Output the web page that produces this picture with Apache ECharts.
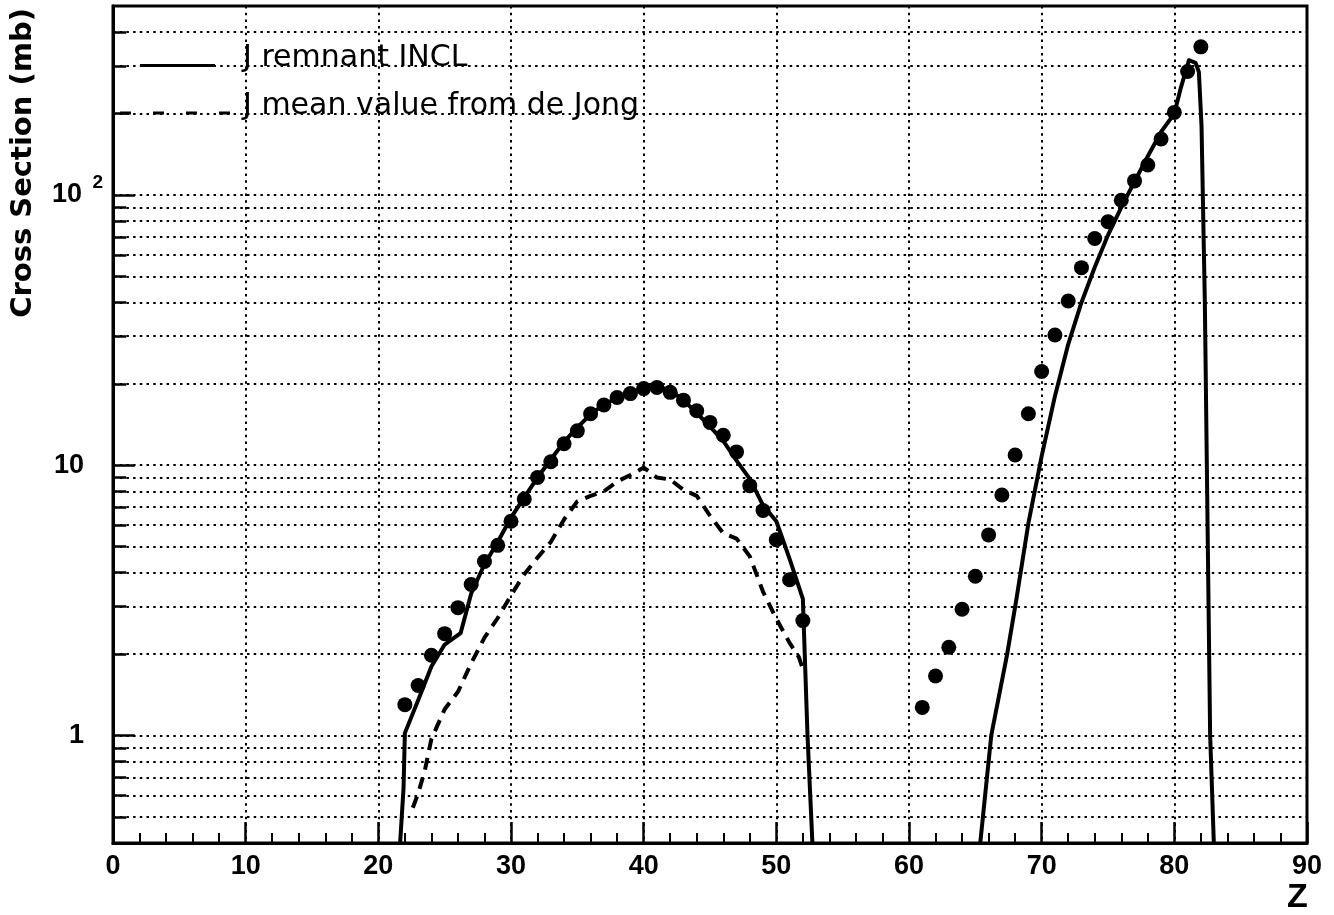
<!DOCTYPE html>
<html>
<head>
<meta charset="utf-8">
<script src="https://cdn.jsdelivr.net/npm/echarts@6/dist/echarts.min.js"></script>
<style>
  html, body { margin: 0; padding: 0; background: #fff; }
  #chart { width: 1334px; height: 915px; }
</style>
</head>
<body>
<div id="chart"></div>
<script>
// Measured cross sections (filled circles), charge Z vs. mb
const measZ = [22, 23, 24, 25, 26, 27, 28, 29, 30, 31, 32, 33, 34, 35, 36, 37, 38, 39, 40, 41,
               42, 43, 44, 45, 46, 47, 48, 49, 50, 51, 52,
               61, 62, 63, 64, 65, 66, 67, 68, 69, 70, 71, 72, 73, 74, 75, 76, 77, 78, 79, 80, 81, 82];
const measCS = [1.30, 1.53, 1.98, 2.38, 2.97, 3.62, 4.40, 5.05, 6.2, 7.5, 9.0, 10.3, 12.0, 13.4, 15.5, 16.7, 17.8, 18.4, 19.2, 19.4,
                18.6, 17.4, 15.9, 14.4, 12.9, 11.2, 8.4, 6.8, 5.3, 3.77, 2.66,
                1.27, 1.66, 2.12, 2.93, 3.88, 5.52, 7.76, 10.9, 15.5, 22.2, 30.3, 40.5, 53.8, 69, 79.6, 95.6, 112.7, 129, 161, 202, 286, 353];

// INCL remnant calculation (solid curve); null splits the two branches
const inclZ = [21.6, 21.9, 22.0, 23, 24, 25, 26.2, 27, 28, 29, 30, 31, 32, 33, 34, 35, 36, 37, 38, 39, 40, 41,
               42, 43, 44, 45, 46, 47, 48, 49, 50, 51, 52, 52.35, 52.75,
               58,
               65.3, 66.2, 67.4, 68.1, 69, 70, 71, 72, 73, 74, 75, 76, 77, 78, 79, 80, 80.5, 81.1, 81.6, 81.85, 82.05, 82.3, 82.7, 83.0];
const inclCS = [0.37, 0.64, 1.02, 1.35, 1.8, 2.17, 2.39, 3.35, 4.3, 5.2, 6.4, 7.6, 9.0, 10.5, 12.2, 13.8, 15.4, 16.8, 17.7, 18.5, 19.3, 19.6,
                18.9, 17.4, 15.6, 13.9, 12.3, 10.4, 8.9, 7.1, 6.2, 4.5, 3.2, 1.0, 0.37,
                null,
                0.37, 1.0, 2.0, 3.2, 6.1, 10.8, 18, 28, 40, 54, 71, 90, 112, 139, 171, 200, 250, 315, 308, 285, 180, 40, 1.0, 0.37];

// Mean J value from de Jong (dashed curve)
const jongZ = [22.6, 23, 23.5, 24, 25, 26, 27, 28, 29, 30, 31, 32, 33, 34, 35, 36, 37, 38, 39, 40,
               41, 42, 43, 44, 45, 46, 47, 48, 49, 50, 51, 51.7, 52.1];
const jongCS = [0.54, 0.61, 0.74, 0.97, 1.25, 1.45, 1.85, 2.3, 2.72, 3.3, 3.95, 4.55, 5.2, 6.3, 7.35, 7.7, 8.0, 8.7, 9.2, 9.8,
                9.0, 8.85, 8.1, 7.7, 6.5, 5.6, 5.35, 4.6, 3.4, 2.7, 2.2, 1.95, 1.7];

// Horizontal grid levels of the log axis and the labelled decades
const gridLevels = [0.5, 0.6, 0.7, 0.8, 0.9, 1, 2, 3, 4, 5, 6, 7, 8, 9, 10,
                    20, 30, 40, 50, 60, 70, 80, 90, 100, 200, 300, 400];
const decades = [1, 10, 100];

const legendNames = ['J remnant INCL', 'J mean value from de Jong'];
const yTitle = 'Cross Section (mb)';
const xTitle = 'Z';

const pairs = (xs, ys) => xs.map((x, i) => [x, ys[i]]);
const DOTS = [2.5, 4.2];
const BOLD = '"Liberation Sans", Arial, Helvetica, sans-serif';

const chart = echarts.init(document.getElementById('chart'), null, { renderer: 'canvas' });

chart.setOption({
  animation: false,
  backgroundColor: '#fff',
  grid: {
    left: 113, right: 27, top: 6, bottom: 72,
    show: true, borderColor: '#000', borderWidth: 3,
    outerBoundsMode: 'none'
  },
  xAxis: {
    type: 'value', min: 0, max: 90, interval: 10,
    axisLine: { show: true, onZero: false, lineStyle: { color: '#000', width: 3 } },
    axisTick: { show: true, inside: true, length: 21, lineStyle: { color: '#000', width: 2.5 } },
    minorTick: { show: true, splitNumber: 5, length: 10, lineStyle: { color: '#000', width: 2 } },
    splitLine: { show: true, lineStyle: { color: '#000', width: 2, type: DOTS } },
    axisLabel: { margin: 10, fontFamily: BOLD, fontWeight: 'bold', fontSize: 27, color: '#000' }
  },
  yAxis: {
    type: 'log', logBase: 10, min: 0.4, max: 500,
    axisLine: { show: true, lineStyle: { color: '#000', width: 3 } },
    axisTick: { show: false },
    splitLine: { show: false },
    axisLabel: {
      margin: 10,
      showMinLabel: false,
      showMaxLabel: false,
      formatter: function (v) {
        const r = Math.round(v);
        if (decades.indexOf(r) < 0 || Math.abs(v - r) > 1e-6 * r) return '';
        if (r === 100) return '{b|10}{s| }{sup|2}';
        return '{b|' + r + '}{g| }';
      },
      rich: {
        b: { fontFamily: BOLD, fontWeight: 'bold', fontSize: 27, color: '#000', lineHeight: 44 },
        g: { width: 19, fontSize: 27, lineHeight: 44 },
        s: { width: 10, fontSize: 19, lineHeight: 19 },
        sup: { fontFamily: BOLD, fontWeight: 'bold', fontSize: 19, color: '#000', lineHeight: 19, verticalAlign: 'top', width: 11 }
      }
    }
  },
  series: [
    {
      // dotted horizontal grid
      type: 'line', data: [], silent: true, z: 1,
      markLine: {
        silent: true, z: 1, symbol: ['none', 'none'], label: { show: false },
        lineStyle: { color: '#000', width: 2, type: DOTS },
        emphasis: { disabled: true },
        data: gridLevels.map(v => ({ yAxis: v }))
      }
    },
    {
      // short solid ticks on the left axis
      type: 'line', data: [], silent: true, z: 2,
      markLine: {
        silent: true, z: 2, symbol: ['none', 'none'], label: { show: false },
        lineStyle: { color: '#000', width: 2.5, type: 'solid' },
        emphasis: { disabled: true },
        data: gridLevels.map(v => [
          { coord: [0, v] },
          { coord: [decades.indexOf(v) >= 0 ? 1.65 : 1.0, v] }
        ])
      }
    },
    {
      name: legendNames[0],
      type: 'line', z: 3,
      data: pairs(inclZ, inclCS),
      showSymbol: false, symbol: 'none', connectNulls: false, clip: true,
      lineStyle: { color: '#000', width: 4, cap: 'round', join: 'round' }
    },
    {
      name: legendNames[1],
      type: 'line', z: 3,
      data: pairs(jongZ, jongCS),
      showSymbol: false, symbol: 'none', clip: true,
      lineStyle: { color: '#000', width: 4, type: [12, 8] }
    },
    {
      name: 'data',
      type: 'scatter', z: 4,
      data: pairs(measZ, measCS),
      symbol: 'circle', symbolSize: 15,
      itemStyle: { color: '#000', opacity: 1 }
    }
  ],
  graphic: [
    { type: 'line', shape: { x1: 140, y1: 65.5, x2: 215, y2: 65.5 }, style: { stroke: '#000', lineWidth: 3 } },
    { type: 'line', shape: { x1: 120, y1: 113, x2: 238, y2: 113 }, style: { stroke: '#000', lineWidth: 3, lineDash: [11, 22] } },
    { type: 'text', x: 243, y: 58.5,
      style: { text: legendNames[0], fontFamily: '"DejaVu Sans", sans-serif', fontSize: 30, fill: '#000', verticalAlign: 'middle' } },
    { type: 'text', x: 243, y: 106,
      style: { text: legendNames[1], fontFamily: '"DejaVu Sans", sans-serif', fontSize: 30, fill: '#000', verticalAlign: 'middle' } },
    { type: 'text', x: 23.5, y: 8, rotation: Math.PI / 2,
      style: { text: yTitle, fontFamily: '"DejaVu Sans", sans-serif', fontWeight: 'bold', fontSize: 29, fill: '#000', align: 'right', verticalAlign: 'middle' } },
    { type: 'text', x: 1297.5, y: 897.5,
      style: { text: xTitle, fontFamily: BOLD, fontWeight: 'bold', fontSize: 34, fill: '#000', align: 'center', verticalAlign: 'middle' } }
  ]
});
</script>
</body>
</html>
